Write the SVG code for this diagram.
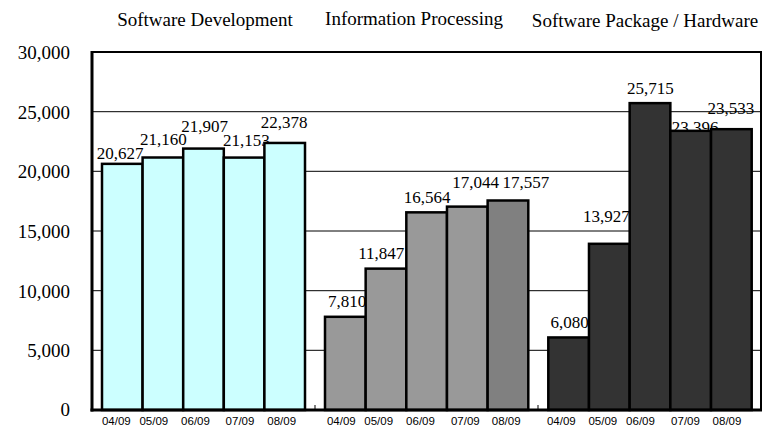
<svg xmlns="http://www.w3.org/2000/svg" width="762" height="427" viewBox="0 0 762 427">
<style>
.t{font-family:"Liberation Serif","Times New Roman",serif;fill:#000}
.title{font-size:19px;text-anchor:middle}
.yl{font-size:19px;text-anchor:end}
.v{font-size:17px;text-anchor:middle}
.xl{font-family:"Liberation Sans",Arial,sans-serif;font-size:11.5px;text-anchor:middle;fill:#000}
.grid{stroke:#000;stroke-width:1}
.bar{stroke:#000;stroke-width:2.5}
.c1{fill:#CCFFFF}.c2{fill:#999999}.c2b{fill:#808080}.c3{fill:#333333}
</style>
<rect x="0" y="0" width="762" height="427" fill="#fff"/>
<g id="titles">
<text class="t title" x="205" y="26">Software Development</text>
<text class="t title" x="414" y="25">Information Processing</text>
<text class="t title" x="645" y="27">Software Package / Hardware</text>
</g>
<g id="grid">
<line class="grid" x1="92" y1="111.7" x2="761" y2="111.7"/>
<line class="grid" x1="92" y1="171.3" x2="761" y2="171.3"/>
<line class="grid" x1="92" y1="231" x2="761" y2="231"/>
<line class="grid" x1="92" y1="290.7" x2="761" y2="290.7"/>
<line class="grid" x1="92" y1="350.3" x2="761" y2="350.3"/>
<line x1="92" y1="52" x2="762" y2="52" stroke="#000" stroke-width="2"/>
<line x1="761" y1="52" x2="761" y2="410" stroke="#000" stroke-width="2"/>
</g>
<g id="ylabels">
<text class="t yl" x="70" y="59">30,000</text>
<text class="t yl" x="70" y="118.5">25,000</text>
<text class="t yl" x="70" y="178">20,000</text>
<text class="t yl" x="70" y="237.7">15,000</text>
<text class="t yl" x="70" y="297.5">10,000</text>
<text class="t yl" x="70" y="357">5,000</text>
<text class="t yl" x="70" y="416">0</text>
</g>
<g id="values">
<text class="t v" x="120" y="159">20,627</text>
<text class="t v" x="163.3" y="145">21,160</text>
<text class="t v" x="204.7" y="131.7">21,907</text>
<text class="t v" x="246.3" y="145.7">21,153</text>
<text class="t v" x="284" y="128.3">22,378</text>
<text class="t v" x="347" y="306.7">7,810</text>
<text class="t v" x="381.3" y="259">11,847</text>
<text class="t v" x="427.2" y="203.3">16,564</text>
<text class="t v" x="475.5" y="188.3">17,044</text>
<text class="t v" x="525.8" y="187.5">17,557</text>
<text class="t v" x="569.5" y="328.3">6,080</text>
<text class="t v" x="606.3" y="222.3">13,927</text>
<text class="t v" x="650.3" y="94.3">25,715</text>
<text class="t v" x="695" y="133">23,396</text>
<text class="t v" x="730.8" y="114.3">23,533</text>
</g>
<g id="series-software-development">
<rect class="bar c1" x="102" y="163.85" width="40.6" height="246.15"/>
<rect class="bar c1" x="142.6" y="157.5" width="40.6" height="252.5"/>
<rect class="bar c1" x="183.2" y="148.58" width="40.6" height="261.42"/>
<rect class="bar c1" x="223.8" y="157.58" width="40.6" height="252.42"/>
<rect class="bar c1" x="264.4" y="142.96" width="40.6" height="267.04"/>
</g>
<g id="series-information-processing">
<rect class="bar c2" x="325" y="316.8" width="40.66" height="93.2"/>
<rect class="bar c2" x="365.66" y="268.63" width="40.66" height="141.37"/>
<rect class="bar c2" x="406.32" y="212.34" width="40.66" height="197.66"/>
<rect class="bar c2" x="446.98" y="206.62" width="40.66" height="203.38"/>
<rect class="bar c2b" x="487.64" y="200.5" width="40.66" height="209.5"/>
</g>
<g id="series-software-package-hardware">
<rect class="bar c3" x="548.3" y="337.45" width="40.68" height="72.55"/>
<rect class="bar c3" x="588.98" y="243.81" width="40.68" height="166.19"/>
<rect class="bar c3" x="629.66" y="103.14" width="40.68" height="306.86"/>
<rect class="bar c3" x="670.34" y="130.82" width="40.68" height="279.18"/>
<rect class="bar c3" x="711.02" y="129.18" width="40.68" height="280.82"/>
</g>
<g id="axes">
<line x1="92" y1="51" x2="92" y2="411.5" stroke="#000" stroke-width="3"/>
<line x1="90.5" y1="410" x2="762" y2="410" stroke="#000" stroke-width="3"/>
<line x1="315" y1="405" x2="315" y2="410" stroke="#000" stroke-width="1"/>
<line x1="538" y1="405" x2="538" y2="410" stroke="#000" stroke-width="1"/>
</g>
<g id="xlabels">
<text class="xl" x="116.3" y="425">04/09</text>
<text class="xl" x="153.8" y="425">05/09</text>
<text class="xl" x="195.5" y="425">06/09</text>
<text class="xl" x="240" y="425">07/09</text>
<text class="xl" x="281.7" y="425">08/09</text>
<text class="xl" x="341.3" y="425">04/09</text>
<text class="xl" x="378.7" y="425">05/09</text>
<text class="xl" x="420.5" y="425">06/09</text>
<text class="xl" x="465.3" y="425">07/09</text>
<text class="xl" x="506.2" y="425">08/09</text>
<text class="xl" x="561.3" y="425">04/09</text>
<text class="xl" x="602.8" y="425">05/09</text>
<text class="xl" x="640.5" y="425">06/09</text>
<text class="xl" x="685.5" y="425">07/09</text>
<text class="xl" x="727" y="425">08/09</text>
</g>
</svg>
